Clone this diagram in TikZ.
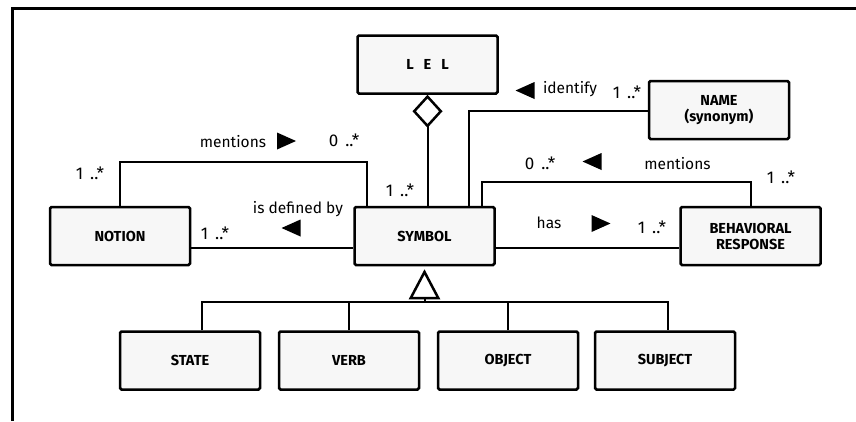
\documentclass[tikz,border=0pt]{standalone}
\usepackage{fontspec}
\setmainfont{Fira Sans}
\usetikzlibrary{arrows.meta}

\tikzset{
    classbox/.style={draw, line width=2.5pt, rounded corners=1.5pt, fill=black!3,
        minimum width=140pt, minimum height=58pt, inner sep=0pt, align=center,
        font=\fontsize{14.5}{16}\selectfont\bfseries},
    wire/.style={line width=2pt},
    rolelabel/.style={font=\fontsize{15.5}{17}\selectfont, inner sep=0pt},
    multlabel/.style={font=\fontsize{17}{19}\selectfont, inner sep=0pt,
        execute at begin node={\spaceskip=7pt\relax}},
    dirmark/.pic={\fill (-9.5,-8.5) -- (9.5,0) -- (-9.5,8.5) -- cycle;}
}

\begin{document}
\begin{tikzpicture}[x=1pt, y=-1pt]
    \useasboundingbox (0,0) rectangle (856,421);
    % Frame:
    \draw[line width=3pt] (12,421) -- (12,8) -- (856,8);

    % Classes:
    \node[classbox] (lel) at (427.5, 64.5){{\spaceskip=10pt L E L}};
    \node[classbox] (name) at (719, 110){NAME\\(synonym)};
    \node[classbox] (notion) at (120, 236){NOTION};
    \node[classbox] (symbol) at (424.5, 236){SYMBOL};
    \node[classbox] (behav) at (750.5, 236){BEHAVIORAL\\RESPONSE};
    \node[classbox] (state) at (190, 360.5){STATE};
    \node[classbox] (verb) at (349, 360.5){VERB};
    \node[classbox] (object) at (508, 360.5){OBJECT};
    \node[classbox] (subject) at (665, 360.5){SUBJECT};
    \coordinate (bus) at (424.5, 302);

    % Associations:
    \draw[wire, {Diamond[open, fill=white, length=33pt, width=30pt, line width=2.5pt]}-] (lel.south) -- (lel.south |- symbol.north);
    \draw[wire] (notion.north) -- ++(0,-44) -| ([xshift=-57.5pt]symbol.north);
    \draw[wire] ([yshift=-12pt]notion.east) -- ([yshift=-12pt]symbol.west);
    \draw[wire] ([yshift=-12pt]symbol.east) -- ([yshift=-12pt]behav.west);
    \draw[wire] ([yshift=-1pt]name.west) -| ([xshift=44.5pt]symbol.north);
    \draw[wire] ([xshift=57.5pt]symbol.north) -- ++(0,-24) -| (behav.north);

    % Generalization:
    \draw[wire] ([xshift=12pt]state.north) |- (bus) -| ([xshift=3pt]subject.north);
    \draw[wire] (verb.north) -- (verb.north |- bus);
    \draw[wire] (object.north) -- (object.north |- bus);
    \draw[wire, shorten >=3pt, -{Triangle[open, fill=white, length=30pt, width=31pt, line width=2.5pt]}] (bus) -- (symbol.south);

    % Labels:
    \node[rolelabel] (mentl) at (233, 142){mentions};
    \pic at (286.5, 141){dirmark};
    \node[multlabel] (mentlto) at (344, 140){0 ..*};
    \node[multlabel] (mentlfrom) at (90, 173){1 ..*};
    \node[multlabel] (lelmult) at (400, 190){1 ..*};
    \node[rolelabel] (defby) at (298, 209){is defined by};
    \pic[rotate=180] at (291, 228){dirmark};
    \node[multlabel] (defbymult) at (215, 233){1 ..*};
    \node[rolelabel] (ident) at (570, 89){identify};
    \pic[rotate=180] at (525, 90.5){dirmark};
    \node[multlabel] (identmult) at (627, 92){1 ..*};
    \node[multlabel] (mentrto) at (540, 163){0 ..*};
    \pic[rotate=180] at (592, 161.5){dirmark};
    \node[rolelabel] (mentr) at (677.5, 164){mentions};
    \node[multlabel] (mentrfrom) at (781, 177){1 ..*};
    \node[rolelabel] (has) at (549, 223){has};
    \pic at (601, 223.5){dirmark};
    \node[multlabel] (hasmult) at (652, 227){1 ..*};
\end{tikzpicture}
\end{document}
